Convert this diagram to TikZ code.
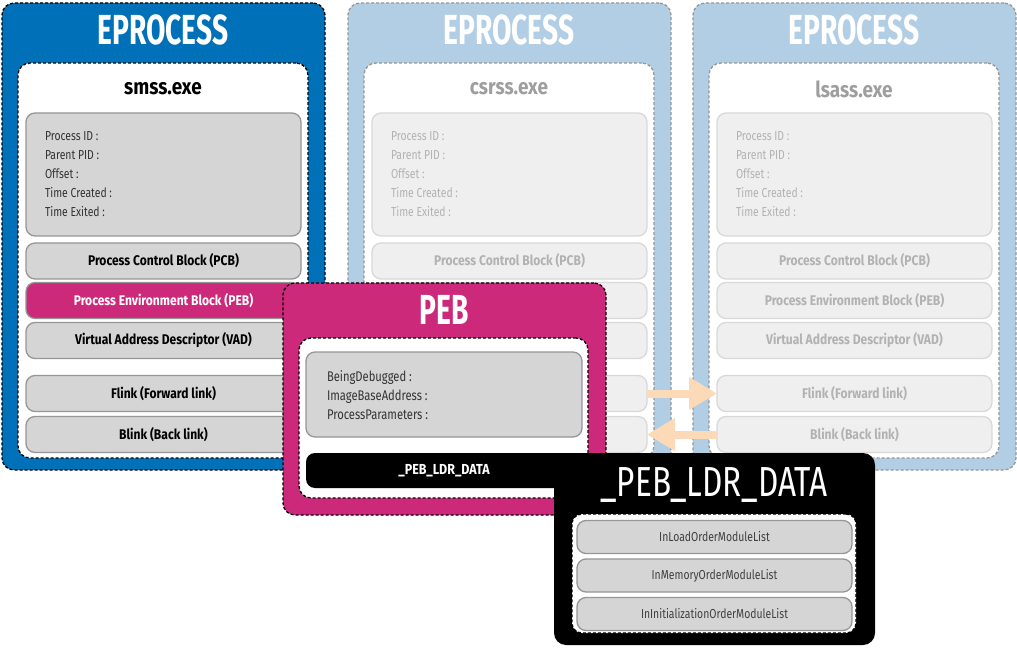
\documentclass[tikz,border=0pt]{standalone}
\usepackage{fontspec}
\usetikzlibrary{arrows.meta}
% condensed faces built from Fira Sans
\newfontfamily\titlefont[FakeStretch=0.67]{Fira Sans}
\newfontfamily\widetitlefont[FakeStretch=0.75]{Fira Sans}
\newfontfamily\rowfont[FakeStretch=0.86]{Fira Sans}
\newfontfamily\infofont[FakeStretch=0.80]{Fira Sans}

\definecolor{eblue}{RGB}{0,113,185}
\definecolor{epale}{RGB}{177,206,229}
\definecolor{pebmag}{RGB}{204,41,122}
\definecolor{peach}{RGB}{253,218,183}
\definecolor{cellfill}{RGB}{213,213,213}
\definecolor{celledge}{RGB}{150,150,150}
\definecolor{fadefill}{RGB}{239,239,239}
\definecolor{fadeedge}{RGB}{216,216,216}
\definecolor{fadetext}{RGB}{178,178,178}
\definecolor{fadetitle}{RGB}{158,158,158}
\definecolor{fadedash}{RGB}{150,150,150}

% labels of the lower rows are left out where the PEB panel covers them
\newif\iflowlabels
\newcommand\lowlabel[1]{\iflowlabels#1\fi}

% one EPROCESS structure: #1 name, #2 left edge, #3 image name, #4 on/off, #5 style of the PEB row
\newcommand\eprocbox[5]{%
  \node[outer#4, minimum width=323pt, minimum height=467pt] (#1) at (#2+161.5,236.5) {};
  \node[titletext] (#1-t) at (#2+161,30) {EPROCESS};
  \node[inner#4, minimum width=290pt, minimum height=395pt] (#1-in) at (#2+161,260.5) {};
  \node[exe#4] (#1-exe) at (#2+161,89) {#3};
  \node[info#4, minimum width=275pt, minimum height=123pt] (#1-info) at (#2+161.5,174.5) {};
  \node[infotext#4] (#1-l1) at (#2+43,141) {Process ID :};
  \node[infotext#4] (#1-l2) at (#2+43,160) {Parent PID :};
  \node[infotext#4] (#1-l3) at (#2+43,179) {Offset :};
  \node[infotext#4] (#1-l4) at (#2+43,198) {Time Created :};
  \node[infotext#4] (#1-l5) at (#2+43,217) {Time Exited :};
  \node[row#4] (#1-pcb) at (#2+161.5,261) {Process Control Block (PCB)};
  \node[#5] (#1-peb) at (#2+161.5,300.5) {\lowlabel{Process Environment Block (PEB)}};
  \node[row#4] (#1-vad) at (#2+161.5,340.5) {\lowlabel{Virtual Address Descriptor (VAD)}};
  \node[row#4] (#1-fl) at (#2+161.5,393.5) {\lowlabel{Flink (Forward link)}};
  \node[row#4] (#1-bl) at (#2+161.5,434.5) {\lowlabel{Blink (Back link)}};
}

\begin{document}
\begin{tikzpicture}[x=1pt,y=-1pt,
  every node/.style={inner sep=0pt, outer sep=0pt},
  dashedge/.style={line width=1.3pt, dash pattern=on 3pt off 2pt},
  outeron/.style={rectangle, rounded corners=12pt, fill=eblue, draw=black, dashedge},
  outeroff/.style={rectangle, rounded corners=12pt, fill=epale, draw=fadedash, dashedge},
  inneron/.style={rectangle, rounded corners=12pt, fill=white, draw=black, dashedge},
  inneroff/.style={rectangle, rounded corners=12pt, fill=white, draw=fadedash, dashedge},
  titletext/.style={text=white, font=\titlefont\bfseries\fontsize{42}{42}\selectfont},
  exeon/.style={text=black, font=\rowfont\bfseries\fontsize{22}{22}\selectfont},
  exeoff/.style={text=fadetitle, font=\rowfont\bfseries\fontsize{22}{22}\selectfont},
  infoon/.style={rectangle, rounded corners=9pt, fill=cellfill, draw=celledge, line width=1.3pt},
  infooff/.style={rectangle, rounded corners=9pt, fill=fadefill, draw=fadeedge, line width=1.3pt},
  infotexton/.style={anchor=base west, text=black!80, font=\infofont\fontsize{13}{13}\selectfont},
  infotextoff/.style={anchor=base west, text=fadetext, font=\infofont\fontsize{13}{13}\selectfont},
  rowon/.style={rectangle, rounded corners=9pt, fill=cellfill, draw=celledge, line width=1.3pt,
    minimum width=275pt, minimum height=36pt, text=black, font=\rowfont\bfseries\fontsize{14}{14}\selectfont},
  rowoff/.style={rectangle, rounded corners=9pt, fill=fadefill, draw=fadeedge, line width=1.3pt,
    minimum width=275pt, minimum height=36pt, text=fadetext, font=\rowfont\bfseries\fontsize{14}{14}\selectfont},
  pebrow/.style={rowon, fill=pebmag, draw=celledge, text=white},
  fatarrow/.style={draw=peach, line width=8pt, -{Triangle[length=28pt,width=31pt]}},
  ldrrow/.style={rectangle, rounded corners=9pt, fill=cellfill, draw=celledge, line width=1.3pt,
    minimum width=275pt, minimum height=33pt, text=black!75, font=\infofont\fontsize{13}{13}\selectfont},
]
\useasboundingbox (0,0) rectangle (1017,652);

% the three EPROCESS structures of the linked list
\lowlabelstrue
\eprocbox{smss}{2}{smss.exe}{on}{pebrow}
\lowlabelsfalse
\eprocbox{csrss}{348}{csrss.exe}{off}{rowoff}
\lowlabelstrue
\eprocbox{lsass}{693}{lsass.exe}{off}{rowoff}

% forward and backward links
\draw[fatarrow] (csrss-fl.east) -- (lsass-fl.west);
\draw[fatarrow] (lsass-bl.west) -- (csrss-bl.east);

% Process Environment Block
\node[rectangle, rounded corners=12pt, fill=pebmag, draw=black, dashedge,
      minimum width=323pt, minimum height=232pt] (peb) at (444.5,399) {};
\node[titletext] (peb-t) at (444,310) {PEB};
\node[inneron, minimum width=289pt, minimum height=160pt] (peb-in) at (443.5,418) {};
\node[infoon, minimum width=276pt, minimum height=85pt] (peb-info) at (444,394.5) {};
\node[infotexton, font=\infofont\fontsize{14}{14}\selectfont] (peb-l1) at (327,381) {BeingDebugged :};
\node[infotexton, font=\infofont\fontsize{14}{14}\selectfont] (peb-l2) at (327,400) {ImageBaseAddress :};
\node[infotexton, font=\infofont\fontsize{14}{14}\selectfont] (peb-l3) at (327,419) {ProcessParameters :};
\node[rectangle, rounded corners=9pt, fill=black, minimum width=276pt, minimum height=35pt,
      text=white, font=\rowfont\bfseries\fontsize{14.5}{14.5}\selectfont] (peb-ldr) at (444,470.5) {\_PEB\_LDR\_DATA};

% loader data
\node[rectangle, rounded corners=12pt, fill=black, minimum width=321pt, minimum height=192pt] (ldr) at (714.5,549) {};
\node[text=white, font=\widetitlefont\fontsize{42}{42}\selectfont] (ldr-t) at (714,485) {\_PEB\_LDR\_DATA};
\node[rectangle, rounded corners=10pt, fill=white, draw=black, dashedge,
      minimum width=284pt, minimum height=119pt] (ldr-in) at (714,573.5) {};
\node[ldrrow] (ldr-load) at (714.5,537) {InLoadOrderModuleList};
\node[ldrrow] (ldr-mem) at (714.5,575.5) {InMemoryOrderModuleList};
\node[ldrrow] (ldr-init) at (714.5,614) {InInitializationOrderModuleList};
\end{tikzpicture}
\end{document}
